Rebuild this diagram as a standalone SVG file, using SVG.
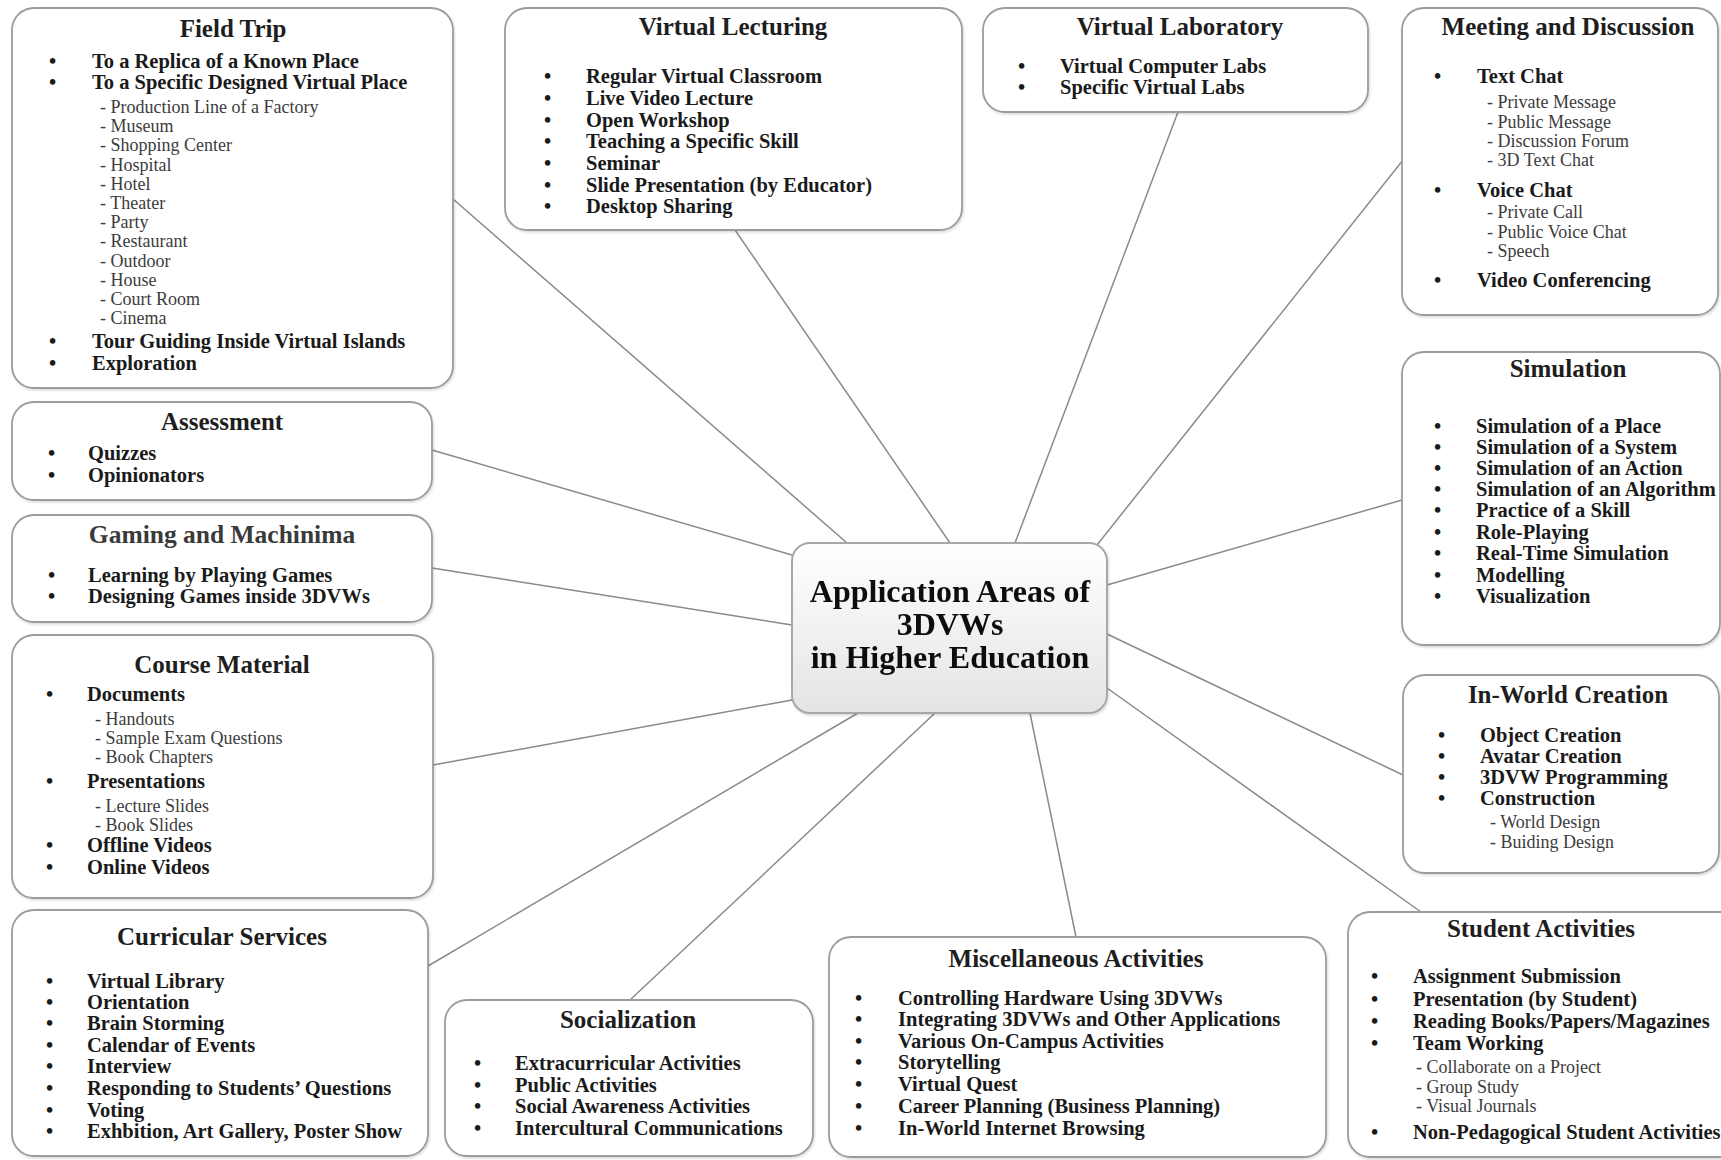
<svg xmlns="http://www.w3.org/2000/svg" width="1721" height="1160" viewBox="0 0 1721 1160">
<style>
.box{fill:#fff;stroke:#9c9c9c;stroke-width:1.8}
.ctr{fill:url(#cg);stroke:#a8a8a8;stroke-width:2}
.ttl{font-family:"Liberation Serif","Times New Roman",serif;font-weight:bold;font-size:25px;text-anchor:middle;fill:#1e1e1e}
.ttlr{font-family:"Liberation Serif","Times New Roman",serif;font-weight:bold;font-size:25.5px;text-anchor:middle;fill:#3a3a3a}
.it{font-family:"Liberation Serif","Times New Roman",serif;font-weight:bold;font-size:20.5px;fill:#1a1a1a}
.sub{font-family:"Liberation Serif","Times New Roman",serif;font-size:18px;fill:#3c3c3c}
.ct{font-family:"Liberation Serif","Times New Roman",serif;font-weight:bold;font-size:32px;text-anchor:middle;fill:#111}
.con line{stroke:#8a8a8a;stroke-width:1.5}
</style>
<defs>
<linearGradient id="cg" x1="0" y1="0" x2="0" y2="1"><stop offset="0" stop-color="#ffffff"/><stop offset="1" stop-color="#e4e4e4"/></linearGradient>
<filter id="sh" x="-5%" y="-5%" width="110%" height="115%"><feDropShadow dx="1" dy="1.5" stdDeviation="1.2" flood-color="#000" flood-opacity="0.15"/></filter>
</defs>
<rect width="1721" height="1160" fill="#fff"/>

<g id="connectors" class="con">
<line x1="453" y1="199" x2="847" y2="543"/>
<line x1="735" y1="230" x2="950" y2="543"/>
<line x1="1178" y1="112" x2="1015" y2="543"/>
<line x1="1403" y1="160" x2="1097" y2="545"/>
<line x1="432" y1="450" x2="792" y2="555"/>
<line x1="432" y1="568" x2="792" y2="625"/>
<line x1="433" y1="765" x2="792" y2="700"/>
<line x1="428" y1="966" x2="858" y2="713"/>
<line x1="630" y1="1000" x2="935" y2="713"/>
<line x1="1076" y1="937" x2="1030" y2="713"/>
<line x1="1421" y1="912" x2="1107" y2="688"/>
<line x1="1403" y1="775" x2="1107" y2="634"/>
<line x1="1402" y1="500" x2="1107" y2="585"/>
</g>

<g id="center" filter="url(#sh)">
<rect class="ctr" x="792" y="543" width="315" height="170" rx="18"/>
<text class="ct" x="950" y="602">Application Areas of</text>
<text class="ct" x="950" y="635">3DVWs</text>
<text class="ct" x="950" y="668">in Higher Education</text>
</g>

<g id="field-trip">
<rect class="box" filter="url(#sh)" x="12" y="8" width="441" height="380" rx="22"/>
<text class="ttl" x="233" y="37">Field Trip</text>
<text class="it" x="49" y="68">•</text><text class="it" x="92" y="68">To a Replica of a Known Place</text>
<text class="it" x="49" y="89">•</text><text class="it" x="92" y="89">To a Specific Designed Virtual Place</text>
<text class="sub" x="100" y="113">- Production Line of a Factory</text>
<text class="sub" x="100" y="132.2">- Museum</text>
<text class="sub" x="100" y="151.4">- Shopping Center</text>
<text class="sub" x="100" y="170.6">- Hospital</text>
<text class="sub" x="100" y="189.8">- Hotel</text>
<text class="sub" x="100" y="209">- Theater</text>
<text class="sub" x="100" y="228.2">- Party</text>
<text class="sub" x="100" y="247.4">- Restaurant</text>
<text class="sub" x="100" y="266.6">- Outdoor</text>
<text class="sub" x="100" y="285.8">- House</text>
<text class="sub" x="100" y="305">- Court Room</text>
<text class="sub" x="100" y="324.2">- Cinema</text>
<text class="it" x="49" y="348">•</text><text class="it" x="92" y="348">Tour Guiding Inside Virtual Islands</text>
<text class="it" x="49" y="370">•</text><text class="it" x="92" y="370">Exploration</text>
</g>

<g id="virtual-lecturing">
<rect class="box" filter="url(#sh)" x="505" y="8" width="457" height="222" rx="22"/>
<text class="ttl" x="733" y="35">Virtual Lecturing</text>
<text class="it" x="544" y="83">•</text><text class="it" x="586" y="83">Regular Virtual Classroom</text>
<text class="it" x="544" y="105">•</text><text class="it" x="586" y="105">Live Video Lecture</text>
<text class="it" x="544" y="127">•</text><text class="it" x="586" y="127">Open Workshop</text>
<text class="it" x="544" y="148">•</text><text class="it" x="586" y="148">Teaching a Specific Skill</text>
<text class="it" x="544" y="170">•</text><text class="it" x="586" y="170">Seminar</text>
<text class="it" x="544" y="192">•</text><text class="it" x="586" y="192">Slide Presentation (by Educator)</text>
<text class="it" x="544" y="213">•</text><text class="it" x="586" y="213">Desktop Sharing</text>
</g>

<g id="virtual-laboratory">
<rect class="box" filter="url(#sh)" x="983" y="8" width="385" height="104" rx="22"/>
<text class="ttl" x="1180" y="35">Virtual Laboratory</text>
<text class="it" x="1018" y="73">•</text><text class="it" x="1060" y="73">Virtual Computer Labs</text>
<text class="it" x="1018" y="94">•</text><text class="it" x="1060" y="94">Specific Virtual Labs</text>
</g>

<g id="meeting-discussion">
<rect class="box" filter="url(#sh)" x="1402" y="8" width="316" height="307" rx="22"/>
<text class="ttl" x="1568" y="35">Meeting and Discussion</text>
<text class="it" x="1434" y="83">•</text><text class="it" x="1477" y="83">Text Chat</text>
<text class="sub" x="1487" y="108">- Private Message</text>
<text class="sub" x="1487" y="128">- Public Message</text>
<text class="sub" x="1487" y="147">- Discussion Forum</text>
<text class="sub" x="1487" y="166">- 3D Text Chat</text>
<text class="it" x="1434" y="197">•</text><text class="it" x="1477" y="197">Voice Chat</text>
<text class="sub" x="1487" y="218">- Private Call</text>
<text class="sub" x="1487" y="238">- Public Voice Chat</text>
<text class="sub" x="1487" y="257">- Speech</text>
<text class="it" x="1434" y="287">•</text><text class="it" x="1477" y="287">Video Conferencing</text>
</g>

<g id="assessment">
<rect class="box" filter="url(#sh)" x="12" y="402" width="420" height="98" rx="22"/>
<text class="ttl" x="222" y="430">Assessment</text>
<text class="it" x="48" y="460">•</text><text class="it" x="88" y="460">Quizzes</text>
<text class="it" x="48" y="482">•</text><text class="it" x="88" y="482">Opinionators</text>
</g>

<g id="gaming-machinima">
<rect class="box" filter="url(#sh)" x="12" y="515" width="420" height="107" rx="22"/>
<text class="ttlr" x="222" y="543">Gaming and Machinima</text>
<text class="it" x="48" y="582">•</text><text class="it" x="88" y="582">Learning by Playing Games</text>
<text class="it" x="48" y="603">•</text><text class="it" x="88" y="603">Designing Games inside 3DVWs</text>
</g>

<g id="course-material">
<rect class="box" filter="url(#sh)" x="12" y="635" width="421" height="263" rx="22"/>
<text class="ttl" x="222" y="673">Course Material</text>
<text class="it" x="46" y="701">•</text><text class="it" x="87" y="701">Documents</text>
<text class="sub" x="95" y="725">- Handouts</text>
<text class="sub" x="95" y="744">- Sample Exam Questions</text>
<text class="sub" x="95" y="763">- Book Chapters</text>
<text class="it" x="46" y="788">•</text><text class="it" x="87" y="788">Presentations</text>
<text class="sub" x="95" y="812">- Lecture Slides</text>
<text class="sub" x="95" y="831">- Book Slides</text>
<text class="it" x="46" y="852">•</text><text class="it" x="87" y="852">Offline Videos</text>
<text class="it" x="46" y="874">•</text><text class="it" x="87" y="874">Online Videos</text>
</g>

<g id="curricular-services">
<rect class="box" filter="url(#sh)" x="12" y="910" width="416" height="246" rx="22"/>
<text class="ttl" x="222" y="945">Curricular Services</text>
<text class="it" x="46" y="988">•</text><text class="it" x="87" y="988">Virtual Library</text>
<text class="it" x="46" y="1009">•</text><text class="it" x="87" y="1009">Orientation</text>
<text class="it" x="46" y="1030">•</text><text class="it" x="87" y="1030">Brain Storming</text>
<text class="it" x="46" y="1052">•</text><text class="it" x="87" y="1052">Calendar of Events</text>
<text class="it" x="46" y="1073">•</text><text class="it" x="87" y="1073">Interview</text>
<text class="it" x="46" y="1095">•</text><text class="it" x="87" y="1095">Responding to Students’ Questions</text>
<text class="it" x="46" y="1117">•</text><text class="it" x="87" y="1117">Voting</text>
<text class="it" x="46" y="1138">•</text><text class="it" x="87" y="1138">Exhbition, Art Gallery, Poster Show</text>
</g>

<g id="socialization">
<rect class="box" filter="url(#sh)" x="445" y="1000" width="368" height="156" rx="22"/>
<text class="ttl" x="628" y="1028">Socialization</text>
<text class="it" x="474" y="1070">•</text><text class="it" x="515" y="1070">Extracurricular Activities</text>
<text class="it" x="474" y="1092">•</text><text class="it" x="515" y="1092">Public Activities</text>
<text class="it" x="474" y="1113">•</text><text class="it" x="515" y="1113">Social Awareness Activities</text>
<text class="it" x="474" y="1135">•</text><text class="it" x="515" y="1135">Intercultural Communications</text>
</g>

<g id="miscellaneous-activities">
<rect class="box" filter="url(#sh)" x="829" y="937" width="497" height="220" rx="22"/>
<text class="ttl" x="1076" y="967">Miscellaneous Activities</text>
<text class="it" x="855" y="1005">•</text><text class="it" x="898" y="1005">Controlling Hardware Using 3DVWs</text>
<text class="it" x="855" y="1026">•</text><text class="it" x="898" y="1026">Integrating 3DVWs and Other Applications</text>
<text class="it" x="855" y="1048">•</text><text class="it" x="898" y="1048">Various On-Campus Activities</text>
<text class="it" x="855" y="1069">•</text><text class="it" x="898" y="1069">Storytelling</text>
<text class="it" x="855" y="1091">•</text><text class="it" x="898" y="1091">Virtual Quest</text>
<text class="it" x="855" y="1113">•</text><text class="it" x="898" y="1113">Career Planning (Business Planning)</text>
<text class="it" x="855" y="1135">•</text><text class="it" x="898" y="1135">In-World Internet Browsing</text>
</g>

<g id="student-activities">
<rect class="box" filter="url(#sh)" x="1348" y="912" width="400" height="245" rx="22"/>
<text class="ttl" x="1541" y="937">Student Activities</text>
<text class="it" x="1371" y="983">•</text><text class="it" x="1413" y="983">Assignment Submission</text>
<text class="it" x="1371" y="1006">•</text><text class="it" x="1413" y="1006">Presentation (by Student)</text>
<text class="it" x="1371" y="1028">•</text><text class="it" x="1413" y="1028">Reading Books/Papers/Magazines</text>
<text class="it" x="1371" y="1050">•</text><text class="it" x="1413" y="1050">Team Working</text>
<text class="sub" x="1416" y="1073">- Collaborate on a Project</text>
<text class="sub" x="1416" y="1093">- Group Study</text>
<text class="sub" x="1416" y="1112">- Visual Journals</text>
<text class="it" x="1371" y="1139">•</text><text class="it" x="1413" y="1139">Non-Pedagogical Student Activities</text>
</g>

<g id="simulation">
<rect class="box" filter="url(#sh)" x="1402" y="352" width="318" height="293" rx="22"/>
<text class="ttl" x="1568" y="377">Simulation</text>
<text class="it" x="1434" y="433">•</text><text class="it" x="1476" y="433">Simulation of a Place</text>
<text class="it" x="1434" y="454">•</text><text class="it" x="1476" y="454">Simulation of a System</text>
<text class="it" x="1434" y="475">•</text><text class="it" x="1476" y="475">Simulation of an Action</text>
<text class="it" x="1434" y="496">•</text><text class="it" x="1476" y="496">Simulation of an Algorithm</text>
<text class="it" x="1434" y="517">•</text><text class="it" x="1476" y="517">Practice of a Skill</text>
<text class="it" x="1434" y="539">•</text><text class="it" x="1476" y="539">Role-Playing</text>
<text class="it" x="1434" y="560">•</text><text class="it" x="1476" y="560">Real-Time Simulation</text>
<text class="it" x="1434" y="582">•</text><text class="it" x="1476" y="582">Modelling</text>
<text class="it" x="1434" y="603">•</text><text class="it" x="1476" y="603">Visualization</text>
</g>

<g id="in-world-creation">
<rect class="box" filter="url(#sh)" x="1403" y="675" width="316" height="198" rx="22"/>
<text class="ttl" x="1568" y="703">In-World Creation</text>
<text class="it" x="1438" y="742">•</text><text class="it" x="1480" y="742">Object Creation</text>
<text class="it" x="1438" y="763">•</text><text class="it" x="1480" y="763">Avatar Creation</text>
<text class="it" x="1438" y="784">•</text><text class="it" x="1480" y="784">3DVW Programming</text>
<text class="it" x="1438" y="805">•</text><text class="it" x="1480" y="805">Construction</text>
<text class="sub" x="1490" y="828">- World Design</text>
<text class="sub" x="1490" y="848">- Buiding Design</text>
</g>
</svg>
